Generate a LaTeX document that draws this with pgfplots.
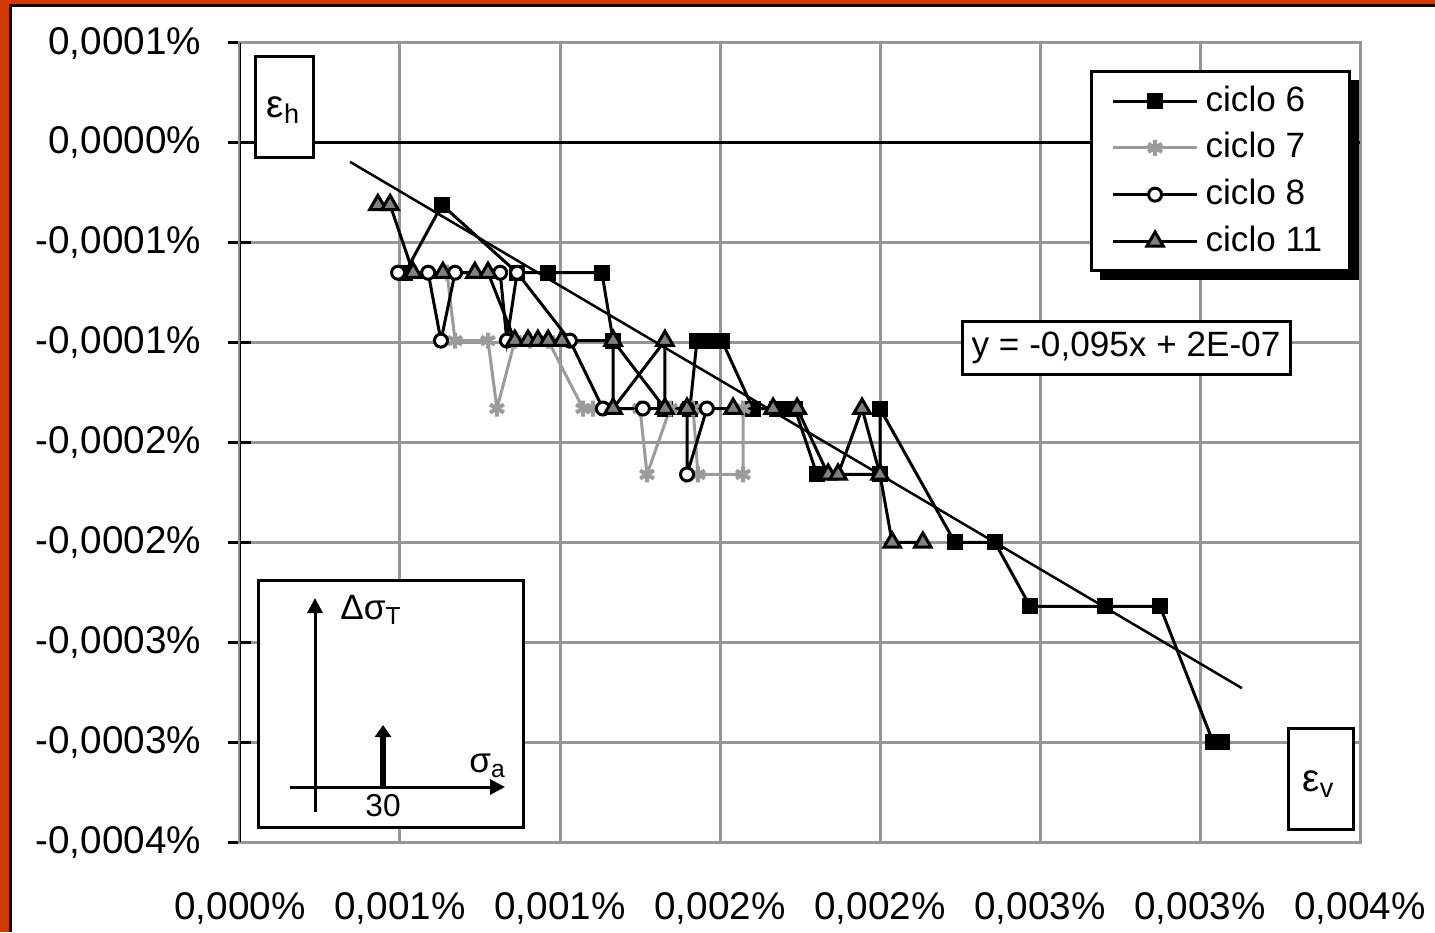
\documentclass[border=0pt]{standalone}
\usepackage{fontspec}
\setmainfont{Liberation Sans}
\usepackage{pgfplots}
\pgfplotsset{compat=1.18}
\usetikzlibrary{arrows.meta}
\definecolor{frameorange}{RGB}{208,58,0}
\definecolor{gridgray}{RGB}{150,150,150}
\definecolor{trigray}{RGB}{128,128,128}
\definecolor{cseven}{RGB}{155,155,155}

\begin{document}
\begin{tikzpicture}
\path[use as bounding box] (0,0) rectangle (14.35,9.32);
\fill[white] (0,0) rectangle (14.35,9.32);
\begin{axis}[
  at={(2.40cm,0.90cm)}, anchor=south west,
  scale only axis, width=11.20cm, height=7.99cm,
  xmin=0, xmax=35, ymin=-3.5, ymax=0.5,
  xtick={0,5,...,35},
  ytick={-3.5,-3,...,0.5},
  xticklabels={{0,000\%},{0,001\%},{0,001\%},{0,002\%},{0,002\%},{0,003\%},{0,003\%},{0,004\%}},
  yticklabels={{-0,0004\%},{-0,0003\%},{-0,0003\%},{-0,0002\%},{-0,0002\%},{-0,0001\%},{-0,0001\%},{0,0000\%},{0,0001\%}},
  ticklabel style={font=\fontsize{11}{13}\selectfont},
  xticklabel style={yshift=-2.7mm},
  yticklabel style={xshift=-1.5mm},
  grid=major,
  grid style={gridgray, line width=0.3mm},
  axis line style={gridgray, line width=0.3mm},
  xtick style={draw=none},
  ytick style={black, line width=0.3mm},
  major tick length=2.3mm, tick align=center,
  ytick pos=left, xtick pos=bottom,
  legend style={at={(0.759,0.966)}, anchor=north west, draw=black, line width=0.3mm,
    fill=white, font=\fontsize{10}{12}\selectfont, row sep=0.2mm,
    inner xsep=2mm, inner ysep=0.7mm},
  legend cell align=left,
  legend image code/.code={\draw[mark repeat=2,mark phase=2] plot coordinates {(0cm,0cm) (0.42cm,0cm) (0.84cm,0cm)};},
]
\draw[black, line width=0.3mm] (axis cs:0,-3.5) -- (axis cs:0,0.5);
\draw[black, line width=0.3mm] (axis cs:0,0) -- (axis cs:35,0);
\pgfplotsinvokeforeach{5,10,15,20,25,30,35}{
  \draw[black, line width=0.3mm] (axis cs:#1,0) ++(0,-1.2mm) -- ++(0,2.4mm);
}
% ciclo 6
\addplot[black, line width=0.3mm, mark=square*, mark size=0.65mm, mark options={fill=black}]
coordinates {(5.16,-0.65) (6.31,-0.31) (8.66,-0.65) (9.63,-0.65) (11.31,-0.65) (11.66,-0.99) (13.28,-1.33) (14.06,-1.33) (14.28,-0.99) (14.69,-0.99) (15.06,-0.99) (16.03,-1.33) (16.78,-1.33) (17.09,-1.33) (17.34,-1.33) (18.03,-1.66) (20.0,-1.66) (20.0,-1.33) (22.34,-2.0) (23.59,-2.0) (24.69,-2.32) (27.03,-2.32) (28.75,-2.32) (30.41,-3.0) (30.69,-3.0)};
\addlegendentry{ciclo 6}
% ciclo 7
\addplot[cseven, line width=0.3mm, mark=asterisk, mark size=0.8mm, mark options={line width=0.4mm}]
coordinates {(6.47,-0.65) (6.72,-0.99) (7.75,-0.99) (8.03,-1.33) (8.59,-0.99) (9.06,-0.99) (9.63,-0.99) (10.72,-1.33) (11.03,-1.33) (12.5,-1.33) (12.72,-1.66) (13.44,-1.33) (14.16,-1.33) (14.31,-1.66) (15.72,-1.66) (15.72,-1.33)};
\addlegendentry{ciclo 7}
% ciclo 8
\addplot[black, line width=0.3mm, mark=*, mark size=0.65mm, mark options={fill=white}]
coordinates {(4.94,-0.65) (5.88,-0.65) (6.28,-0.99) (6.72,-0.65) (8.13,-0.65) (8.34,-0.99) (8.66,-0.65) (10.31,-0.99) (11.34,-1.33) (12.59,-1.33) (13.97,-1.33) (13.97,-1.66) (14.59,-1.33)};
\addlegendentry{ciclo 8}
% ciclo 11
\addplot[black, line width=0.3mm, mark=triangle*, mark size=0.95mm, mark options={fill=trigray}]
coordinates {(4.31,-0.31) (4.69,-0.31) (5.41,-0.65) (6.34,-0.65) (7.34,-0.65) (7.75,-0.65) (8.59,-0.99) (9.0,-0.99) (9.31,-0.99) (9.63,-0.99) (10.06,-0.99) (11.66,-0.99) (11.66,-1.33) (13.28,-0.99) (13.28,-1.33) (13.97,-1.33) (15.41,-1.33) (16.66,-1.33) (17.41,-1.33) (18.38,-1.66) (18.69,-1.66) (19.44,-1.33) (20.0,-1.66) (20.38,-2.0) (21.34,-2.0)};
\addlegendentry{ciclo 11}
% trend line
\addplot[black, line width=0.25mm, forget plot] coordinates {(3.44,-0.095) (31.31,-2.73)};
% legend shadow
\fill[black] (axis description cs:0.768,0.9535) rectangle (axis description cs:0.999,0.7035);
\end{axis}
% outer frame (cropped)
\fill[frameorange] (0,0) rectangle (0.09,9.32);
\fill[frameorange] (0,9.28) rectangle (14.35,9.32);
\fill[black] (0.09,0) rectangle (0.12,9.28);
\fill[black] (0.09,9.25) rectangle (14.35,9.28);
% epsilon boxes
\draw[black, line width=0.3mm, fill=white] (2.55,7.74) rectangle (3.13,8.75);
\node[font=\fontsize{11}{13}\selectfont] at (2.84,8.22) {ε\textsubscript{h}};
\draw[black, line width=0.3mm, fill=white] (12.88,1.03) rectangle (13.53,2.04);
\node[font=\fontsize{11}{13}\selectfont] at (13.19,1.48) {ε\textsubscript{v}};
% equation box
\draw[black, line width=0.3mm, fill=white] (9.62,5.57) rectangle (12.90,6.10);
\node[font=\fontsize{10}{12}\selectfont] at (11.26,5.84) {y = -0,095x + 2E-07};
% inset
\draw[black, line width=0.3mm, fill=white] (2.58,1.05) rectangle (5.23,3.52);
\draw[black, line width=0.3mm, -{Triangle[length=1.5mm,width=1.5mm]}] (3.15,1.20) -- (3.15,3.34);
\draw[black, line width=0.3mm, -{Triangle[length=1.5mm,width=1.5mm]}] (2.90,1.45) -- (5.05,1.45);
\draw[black, line width=0.6mm, -{Triangle[length=1.2mm,width=1.6mm]}] (3.83,1.45) -- (3.83,2.07);
\node[font=\fontsize{9}{11}\selectfont] at (3.83,1.26) {30};
\node[font=\fontsize{10}{12}\selectfont, anchor=west] at (3.28,3.22) {Δσ\textsubscript{T}};
\node[font=\fontsize{10}{12}\selectfont] at (4.88,1.66) {σ\textsubscript{a}};
\end{tikzpicture}
\end{document}
